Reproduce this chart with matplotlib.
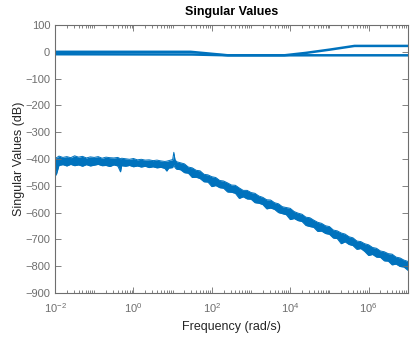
import matplotlib.pyplot as plt
import matplotlib.ticker as mticker
import numpy as np

plt.rcParams["font.family"] = "Liberation Sans"
plt.rcParams["mathtext.default"] = "regular"

# singular value curves (log10 of rad/s, dB)
sv1_logf = [-2.0, 1.46, 1.9, 2.41, 3.85, 4.4, 5.0, 5.64, 7.0]
sv1_db = [0, 0, -6, -13, -13, -4, 8, 22, 22]
sv2_logf = [-2.0, 1.5, 2.4, 7.0]
sv2_db = [-9, -10, -13, -13]

# noisy band: upper and lower edge
band_logf = [-2.0, -1.97, -1.9, -1.8, -1.7, -1.6, -1.5, -1.4, -1.3, -1.2,
             -1.1, -1.0, -0.9, -0.8, -0.7, -0.6, -0.5, -0.4, -0.33, -0.3,
             -0.2, -0.1, 0.0, 0.1, 0.2, 0.3, 0.4, 0.5, 0.6, 0.7,
             0.8, 0.85, 0.9, 1.0, 1.03, 1.06, 1.1,
             1.2, 1.3, 1.4, 1.5, 1.6, 1.7, 1.8, 1.9, 2.0, 2.1,
             2.2, 2.3, 2.4, 2.5, 2.6, 2.7, 2.8, 2.9, 3.0, 3.1,
             3.2, 3.3, 3.4, 3.5, 3.6, 3.7, 3.8, 3.9, 4.0, 4.1,
             4.2, 4.3, 4.4, 4.5, 4.6, 4.7, 4.8, 4.9, 5.0, 5.1,
             5.2, 5.3, 5.4, 5.5, 5.6, 5.7, 5.8, 5.9, 6.0, 6.1,
             6.2, 6.3, 6.4, 6.5, 6.6, 6.7, 6.8, 6.9, 7.0]
band_hi = [-392, -396, -389, -394, -391, -395, -388, -393, -390, -396,
           -392, -394, -391, -397, -393, -395, -396, -394, -399, -397,
           -399, -401, -398, -403, -401, -404, -403, -406, -404, -407,
           -409, -408, -406, -402, -375, -402, -410,
           -414, -418, -430, -433, -442, -444, -457, -459, -466, -469,
           -480, -482, -489, -497, -498, -508, -517, -517, -525, -528,
           -538, -543, -552, -553, -563, -567, -578, -581, -584, -596,
           -602, -606, -617, -619, -628, -636, -640, -649, -652, -665,
           -668, -676, -680, -690, -694, -706, -708, -716, -720, -730,
           -733, -743, -746, -753, -755, -766, -769, -777, -782]
band_lo = [-428, -460, -424, -421, -426, -420, -425, -422, -427, -421,
           -426, -423, -420, -425, -424, -428, -422, -426, -448, -425,
           -427, -424, -429, -426, -430, -427, -432, -429, -433, -431,
           -435, -445, -434, -432, -420, -432, -438,
           -440, -451, -453, -469, -468, -473, -485, -486, -503, -499,
           -507, -509, -523, -524, -528, -547, -541, -549, -550, -563,
           -565, -570, -586, -583, -588, -600, -604, -608, -626, -622,
           -630, -633, -648, -652, -655, -670, -669, -678, -681, -695,
           -697, -716, -709, -719, -723, -737, -734, -745, -760, -756,
           -766, -767, -780, -781, -795, -792, -801, -803, -815]

blue = "#0072BD"
grey = "#6e6e6e"

fig = plt.figure(figsize=(4.17, 3.38), dpi=100)
ax = fig.add_axes([0.132, 0.133, 0.846, 0.793])

f_band = 10.0 ** np.array(band_logf)
ax.fill_between(f_band, band_lo, band_hi, color=blue, lw=0)
ax.plot(f_band, band_hi, color=blue, lw=0.7)
ax.plot(f_band, band_lo, color=blue, lw=0.7)
ax.plot(10.0 ** np.array(sv1_logf), sv1_db, color=blue, lw=1.8)
ax.plot(10.0 ** np.array(sv2_logf), sv2_db, color=blue, lw=1.8)

ax.set_xscale("log")
ax.set_xlim(1e-2, 1e7)
ax.set_ylim(-900, 100)
ax.set_yticks(range(-900, 101, 100))
ax.set_xticks([1e-2, 1e0, 1e2, 1e4, 1e6])
ax.set_xticklabels(["$10^{-2}$", "$10^{0}$", "$10^{2}$", "$10^{4}$", "$10^{6}$"])
ax.xaxis.set_minor_locator(mticker.LogLocator(base=10, subs=np.arange(1, 10), numticks=30))
ax.xaxis.set_minor_formatter(mticker.NullFormatter())
ax.tick_params(which="both", direction="in", top=True, right=True, colors=grey,
               labelsize=8, labelcolor=grey)
ax.tick_params(which="major", length=4, width=0.6)
ax.tick_params(which="minor", length=2, width=0.6)
ax.tick_params(axis="x", which="major", pad=6)
for s in ax.spines.values():
    s.set_color(grey)
    s.set_linewidth(0.8)

ax.set_title("Singular Values", fontsize=9, fontweight="bold", pad=7)
ax.set_xlabel("Frequency (rad/s)", fontsize=9, color="#262626", labelpad=4)
ax.set_ylabel("Singular Values (dB)", fontsize=9, color="#262626", labelpad=0)

fig.savefig("out.png", dpi=100)
